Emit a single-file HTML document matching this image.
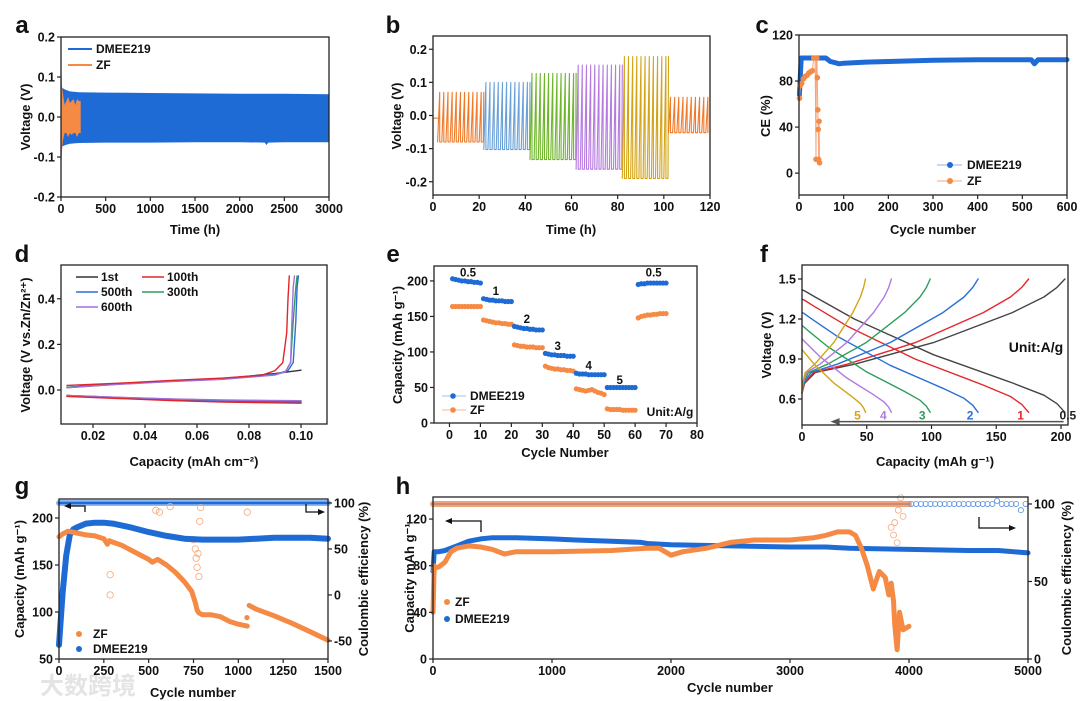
<!DOCTYPE html>
<html><head><meta charset="utf-8"><style>
body{margin:0;background:#fff;}
svg{display:block;font-family:"Liberation Sans","Noto Sans CJK SC",sans-serif;font-weight:bold;}
</style></head><body>
<svg id="fig" width="1080" height="701" viewBox="0 0 1080 701" xmlns="http://www.w3.org/2000/svg">
<rect width="1080" height="701" fill="#fff"/>
<text x="40" y="694" font-size="24" fill="#e4e4e4">大数跨境</text>
</svg>
<script>
// ---------- DATA ----------
const aTime=[0,20,50,100,200,500,1000,1500,2000,2280,2300,2320,2500,3000];
const aUpper=[0.075,0.072,0.068,0.064,0.062,0.061,0.060,0.059,0.058,0.058,0.058,0.058,0.058,0.057];
const aLower=[-0.075,-0.073,-0.07,-0.067,-0.065,-0.064,-0.064,-0.063,-0.063,-0.064,-0.07,-0.064,-0.063,-0.063];
const aZfTime=[0,5,10,20,40,60,80,100,120,140,160,180,200,220];
const aZfUpper=[0.15,0.12,0.08,0.06,0.03,0.04,0.05,0.035,0.04,0.045,0.03,0.045,0.04,0.04];
const aZfLower=[-0.14,-0.12,-0.09,-0.06,-0.04,-0.04,-0.05,-0.04,-0.045,-0.04,-0.04,-0.05,-0.04,-0.04];

const bStart=[2,22,42,62,82,102];
const bEnd=[22,42,62,82,102,120];
const bHigh=[0.07,0.1,0.127,0.152,0.178,0.055];
const bLow=[-0.08,-0.103,-0.133,-0.162,-0.19,-0.052];
const bPeriod=[1.8,1.8,1.8,1.8,1.8,1.8];

const cDmCyc=[1,5,10,20,40,60,70,80,90,100,150,200,300,400,500,520,527,535,600];
const cDmCE=[68,100,100,100,100,100,97,96,95,95.5,96.5,97,98,98.5,98.5,98.5,95,98.5,98.5];
const cZfCyc=[1,3,6,10,14,18,22,26,30,33,36,38,39,40,41,42,43,44,45,46];
const cZfCE=[65,76,78,82,84,85,87,88,89,100,100,12,100,100,83,55,38,12,45,9];

const dLabels=['1st','100th','500th','300th','600th'];
const dUpCap=[
 [0.01,0.03,0.05,0.07,0.09,0.1],
 [0.01,0.03,0.05,0.07,0.085,0.09,0.093,0.0945,0.095,0.0955],
 [0.01,0.03,0.05,0.07,0.09,0.095,0.097,0.098,0.0985,0.099],
 [0.01,0.03,0.05,0.07,0.09,0.094,0.096,0.097,0.098,0.0985],
 [0.01,0.03,0.05,0.07,0.09,0.094,0.096,0.0965,0.097,0.0975]];
const dUpV=[
 [0.012,0.028,0.04,0.05,0.072,0.087],
 [0.02,0.03,0.042,0.052,0.065,0.085,0.12,0.25,0.4,0.5],
 [0.01,0.026,0.038,0.048,0.068,0.085,0.12,0.3,0.45,0.5],
 [0.012,0.027,0.038,0.049,0.068,0.08,0.12,0.3,0.45,0.5],
 [0.01,0.025,0.037,0.047,0.066,0.08,0.12,0.3,0.45,0.5]];
const dLowCap=[0.01,0.03,0.05,0.07,0.1];
const dLowV=[
 [-0.024,-0.033,-0.04,-0.045,-0.048],
 [-0.028,-0.037,-0.046,-0.053,-0.058],
 [-0.025,-0.034,-0.042,-0.048,-0.052],
 [-0.026,-0.035,-0.043,-0.05,-0.055],
 [-0.024,-0.032,-0.039,-0.044,-0.047]];

const eBlue=[203,202,201,200,200,199,199,198,198,197, 175,174,173,173,172,172,172,171,171,171, 136,135,134,133,133,132,132,131,131,131, 98,97,96,96,95,95,95,94,94,94, 70,69,69,69,68,68,68,68,68,68, 50,50,50,50,50,50,50,50,50,50, 195,196,196,197,197,197,197,197,197,197];
const eOrange=[164,164,164,164,164,164,164,164,164,164, 145,144,143,142,141,141,140,140,139,139, 110,109,108,108,107,107,107,106,106,106, 80,78,77,76,76,75,75,74,74,73, 48,47,46,45,46,47,45,43,42,40, 20,19,19,19,19,18,18,18,18,18, 148,150,151,152,152,153,153,154,154,154];
const eRateLabels=['0.5','1','2','3','4','5','0.5'];
const eRateCyc=[6,15,25,35,45,55,66];
const eRateCap=[206,180,141,103,75,55,206];

const fRates=['0.5','1','2','3','4','5'];
const fCap=[203,175,136,99,69,49];
const fV0=[1.42,1.35,1.25,1.15,1.05,0.97];
const fFrac=[0,0.01,0.05,0.2,0.5,0.8,0.92,0.97,1];
const fDisShape=[0,0.01,0.06,0.24,0.53,0.76,0.86,0.93,1];
const fChgShape=[0.05,0.13,0.22,0.29,0.47,0.72,0.85,0.93,1];

const gZfCyc=[0,20,50,100,150,200,250,270,280,290,350,400,500,520,550,600,650,700,740,760,770,780,800,850,900,950,1000,1050];
const gZfCap=[180,183,186,184,182,181,178,172,176,175,171,166,156,153,156,150,142,132,122,110,102,99,97,97,95,90,87,85];
const gZfCyc2=[1060,1100,1200,1300,1400,1500];
const gZfCap2=[107,103,96,88,79,70];
const gDmCyc=[0,20,40,60,80,100,150,200,250,300,400,500,600,700,800,900,1000,1100,1200,1300,1400,1500];
const gDmCap=[65,120,160,182,188,190,194,195,195,194,190,185,181,178,177,177,177,178,179,179,179,178];
const gZfCeCyc=[285,285,540,560,620,750,760,765,770,775,780,785,790,1050];
const gZfCe=[22,0,92,90,96,60,50,40,30,45,20,80,95,90];

const hZfCyc=[0,10,20,50,100,150,200,300,400,500,600,700,1000,1500,1800,1900,2000,2100,2300,2500,2700,3000,3200,3300,3400,3500,3550,3600,3650,3700,3750,3800,3830,3850,3870,3880,3900,3920,3950,4000];
const hZfCap=[40,80,78,79,83,92,95,97,96,94,90,92,92,93,95,95,89,92,95,100,102,102,104,106,109,109,106,95,80,60,75,70,55,65,50,30,8,40,25,28];
const hDmCyc=[0,10,50,100,200,300,400,500,700,1000,1200,1500,1750,1800,2000,2500,3000,3300,3500,4000,4500,4700,4750,5000];
const hDmCap=[75,92,92,93,97,101,103,104,104,103,102,101,100,99,98,97,96,96,95,94,93,93,93,91];
const hBlueCeCyc=[4020,4060,4100,4140,4180,4220,4260,4300,4340,4380,4420,4460,4500,4540,4580,4620,4660,4700,4740,4780,4820,4860,4900,4940,4980];
const hBlueCe=[100,100,100,100,100,100,100,100,100,100,100,100,100,100,100,100,100,100,102,100,100,100,100,96,100];
const hZfCeCyc=[3850,3870,3880,3900,3910,3930,3950];
const hZfCe=[85,80,88,75,96,104,92];

// ---------- HELPERS ----------
const NS='http://www.w3.org/2000/svg';
const svg=document.getElementById('fig');
const BLUE='#1f6bd6', ORANGE='#f58a45';
function mk(tag,attrs,name,parent){
  const e=document.createElementNS(NS,tag);
  for(const k in attrs) e.setAttribute(k,attrs[k]);
  
  
  (parent||svg).appendChild(e);
  return e;
}
function txt(x,y,s,size,anchor,name,fill,rot){
  const t=mk('text',{x:x,y:y,'font-size':size,'text-anchor':anchor||'middle',fill:fill||'#111'},name);
  if(rot) t.setAttribute('transform','rotate(-90 '+x+' '+y+')');
  t.textContent=s;
  return t;
}
function sx(p,v){return p.x0+(v-p.xmin)/(p.xmax-p.xmin)*(p.x1-p.x0);}
function sy(p,v){return p.y1-(v-p.ymin)/(p.ymax-p.ymin)*(p.y1-p.y0);}
function sy2(p,v){return p.y1-(v-p.y2min)/(p.y2max-p.y2min)*(p.y1-p.y0);}
function axes(p,name,xt,xl,yt,yl,y2t,y2l){
  const g=mk('g',{},name+'-axes');
  mk('rect',{x:p.x0,y:p.y0,width:p.x1-p.x0,height:p.y1-p.y0,fill:'none',stroke:'#222','stroke-width':1.3},name+'-frame',g);
  xt.forEach((v,i)=>{const x=sx(p,v);
    mk('line',{x1:x,x2:x,y1:p.y1,y2:p.y1+4,stroke:'#222','stroke-width':1.2},name+'-x-tick',g);
    txt(x,p.y1+16,xl[i],12.5,'middle',name+'-x-tick-label');});
  yt.forEach((v,i)=>{const y=sy(p,v);
    mk('line',{x1:p.x0-4,x2:p.x0,y1:y,y2:y,stroke:'#222','stroke-width':1.2},name+'-y-tick',g);
    txt(p.x0-6,y+4.5,yl[i],12.5,'end',name+'-y-tick-label');});
  if(y2t) y2t.forEach((v,i)=>{const y=sy2(p,v);
    mk('line',{x1:p.x1,x2:p.x1+4,y1:y,y2:y,stroke:'#222','stroke-width':1.2},name+'-y2-tick',g);
    txt(p.x1+6,y+4.5,y2l[i],12.5,'start',name+'-y2-tick-label');});
}
function poly(p,xs,ys,color,w,name,useY2){
  const pts=xs.map((x,i)=>sx(p,x).toFixed(1)+','+(useY2?sy2(p,ys[i]):sy(p,ys[i])).toFixed(1)).join(' ');
  return mk('polyline',{points:pts,fill:'none',stroke:color,'stroke-width':w,'stroke-linejoin':'round','stroke-linecap':'round'},name);
}
function band(p,xs,up,lo,color,name){
  let pts=xs.map((x,i)=>sx(p,x).toFixed(1)+','+sy(p,up[i]).toFixed(1));
  for(let i=xs.length-1;i>=0;i--) pts.push(sx(p,xs[i]).toFixed(1)+','+sy(p,lo[i]).toFixed(1));
  return mk('polygon',{points:pts.join(' '),fill:color},name);
}
function dot(x,y,r,color,name,open){
  return mk('circle',{cx:x,cy:y,r:r,fill:open?'none':color,stroke:color,'stroke-width':open?0.8:0},name);
}
function letter(x,y,s){txt(x,y,s,24,'middle','panel-label-'+s);}

// ---------- PANEL A ----------
const pa={x0:61,x1:329,y0:37,y1:197,xmin:0,xmax:3000,ymin:-0.2,ymax:0.2};
letter(22,33,'a');
band(pa,aTime,aUpper,aLower,BLUE,'a-dmee219-band');
band(pa,aZfTime,aZfUpper,aZfLower,ORANGE,'a-zf-band');
axes(pa,'a',[0,500,1000,1500,2000,2500,3000],['0','500','1000','1500','2000','2500','3000'],[-0.2,-0.1,0,0.1,0.2],['-0.2','-0.1','0.0','0.1','0.2']);
mk('line',{x1:68,x2:92,y1:49,y2:49,stroke:BLUE,'stroke-width':2},'a-legend-dmee219-line');
txt(96,53,'DMEE219',12,'start','a-legend-dmee219');
mk('line',{x1:68,x2:92,y1:65,y2:65,stroke:ORANGE,'stroke-width':2},'a-legend-zf-line');
txt(96,69,'ZF',12,'start','a-legend-zf');
txt(195,234,'Time (h)',13,'middle','a-x-axis-title');
txt(30,117,'Voltage (V)',13,'middle','a-y-axis-title','#111',true);

// ---------- PANEL B ----------
const pb={x0:433,x1:710,y0:36,y1:195,xmin:0,xmax:120,ymin:-0.24,ymax:0.24};
letter(393,33,'b');
const bColors=['#f07a2a','#6aa0d8','#6fb52c','#b57ae0','#d4a418','#f07a2a'];
poly(pb,[0,2],[-0.008,-0.008],bColors[0],1.2,'b-rest-line');
bStart.forEach((s,k)=>{
  const xs=[],ys=[];let t=s;
  while(t<bEnd[k]-0.01){xs.push(t);ys.push(bLow[k]);xs.push(Math.min(t+bPeriod[k]/2,bEnd[k]));ys.push(bHigh[k]);t+=bPeriod[k]/2;if(t>=bEnd[k])break;
    xs.push(t);ys.push(bLow[k]);t+=bPeriod[k]/2;}
  poly(pb,xs,ys,bColors[k],1.1,'b-segment-'+k);
});
axes(pb,'b',[0,20,40,60,80,100,120],['0','20','40','60','80','100','120'],[-0.2,-0.1,0,0.1,0.2],['-0.2','-0.1','0.0','0.1','0.2']);
txt(571,234,'Time (h)',13,'middle','b-x-axis-title');
txt(401,116,'Voltage (V)',13,'middle','b-y-axis-title','#111',true);

// ---------- PANEL C ----------
const pc={x0:799,x1:1067,y0:35,y1:195,xmin:0,xmax:600,ymin:-19,ymax:120};
letter(762,33,'c');
poly(pc,cDmCyc,cDmCE,BLUE,5,'c-dmee219-series');
poly(pc,cZfCyc,cZfCE,'#f7a47a',1,'c-zf-line');
cZfCyc.forEach((c,i)=>dot(sx(pc,c),sy(pc,cZfCE[i]),2.8,ORANGE,'c-zf-point'));
axes(pc,'c',[0,100,200,300,400,500,600],['0','100','200','300','400','500','600'],[0,40,80,120],['0','40','80','120']);
mk('line',{x1:937,x2:962,y1:165,y2:165,stroke:'#8ab4ee','stroke-width':1},'c-legend-dmee219-line');
dot(950,165,3,BLUE,'c-legend-dmee219-marker');
txt(967,169,'DMEE219',12,'start','c-legend-dmee219');
mk('line',{x1:937,x2:962,y1:181,y2:181,stroke:'#f7a47a','stroke-width':1},'c-legend-zf-line');
dot(950,181,3,ORANGE,'c-legend-zf-marker');
txt(967,185,'ZF',12,'start','c-legend-zf');
txt(933,234,'Cycle number',13,'middle','c-x-axis-title');
txt(770,116,'CE (%)',13,'middle','c-y-axis-title','#111',true);

// ---------- PANEL D ----------
const pd={x0:61,x1:327,y0:265,y1:424,xmin:0.0077,xmax:0.11,ymin:-0.149,ymax:0.548};
letter(22,262,'d');
const dColors=['#333333','#e0262b','#2a6fd6','#2e9e5b','#a070d8'];
[0,3,2,4,1].forEach(k=>{poly(pd,dLowCap,dLowV[k],dColors[k],1.4,'d-lower-'+dLabels[k]);});
[0,3,2,4,1].forEach(k=>{poly(pd,dUpCap[k],dUpV[k],dColors[k],1.4,'d-upper-'+dLabels[k]);});
axes(pd,'d',[0.02,0.04,0.06,0.08,0.10],['0.02','0.04','0.06','0.08','0.10'],[0,0.2,0.4],['0.0','0.2','0.4']);
const dLegPos=[[76,277],[142,277],[76,292],[142,292],[76,307]];
dLegPos.forEach((pp,k)=>{
  mk('line',{x1:pp[0],x2:pp[0]+22,y1:pp[1],y2:pp[1],stroke:dColors[k],'stroke-width':1.5},'d-legend-line-'+dLabels[k]);
  txt(pp[0]+25,pp[1]+4,dLabels[k],12,'start','d-legend-'+dLabels[k]);
});
txt(194,466,'Capacity (mAh cm⁻²)',13,'middle','d-x-axis-title');
txt(30,345,'Voltage (V vs.Zn/Zn²⁺)',13,'middle','d-y-axis-title','#111',true);

// ---------- PANEL E ----------
const pe={x0:434,x1:697,y0:266,y1:423,xmin:-5,xmax:80,ymin:0,ymax:221};
letter(393,262,'e');
eOrange.forEach((v,i)=>dot(sx(pe,i+1),sy(pe,v),2.6,ORANGE,'e-zf-point'));
eBlue.forEach((v,i)=>dot(sx(pe,i+1),sy(pe,v),2.6,BLUE,'e-dmee219-point'));
eRateLabels.forEach((s,i)=>txt(sx(pe,eRateCyc[i]),sy(pe,eRateCap[i]),s,11.5,'middle','e-rate-label'));
axes(pe,'e',[0,10,20,30,40,50,60,70,80],['0','10','20','30','40','50','60','70','80'],[0,50,100,150,200],['0','50','100','150','200']);
mk('line',{x1:442,x2:466,y1:396,y2:396,stroke:'#9fc1ef','stroke-width':1},'e-legend-dmee219-line');
dot(453,396,2.8,BLUE,'e-legend-dmee219-marker');
txt(470,400,'DMEE219',12,'start','e-legend-dmee219');
mk('line',{x1:442,x2:466,y1:410,y2:410,stroke:'#f7b894','stroke-width':1},'e-legend-zf-line');
dot(453,410,2.8,ORANGE,'e-legend-zf-marker');
txt(470,414,'ZF',12,'start','e-legend-zf');
txt(670,416,'Unit:A/g',12,'middle','e-unit-label');
txt(565,457,'Cycle Number',13,'middle','e-x-axis-title');
txt(402,345,'Capacity (mAh g⁻¹)',13,'middle','e-y-axis-title','#111',true);

// ---------- PANEL F ----------
const pf={x0:802,x1:1068,y0:265,y1:425,xmin:0,xmax:205.4,ymin:0.405,ymax:1.605};
letter(764,262,'f');
const fColors=['#444444','#e6262b','#2a6fd6','#2e9e5b','#b07ae0','#d4a418'];
fRates.forEach((r,k)=>{
  const xs=fFrac.map(f=>f*fCap[k]);
  poly(pf,xs,fDisShape.map(s=>fV0[k]-s*(fV0[k]-0.5)),fColors[k],1.4,'f-discharge-'+r);
  poly(pf,xs,fChgShape.map(s=>0.6+s*0.9),fColors[k],1.4,'f-charge-'+r);
  txt(sx(pf,fCap[k])-(k==0?-3:8),sy(pf,0.445),r,12,'middle','f-rate-label-'+r,k==0?'#222':fColors[k]);
});
mk('line',{x1:sx(pf,202),x2:sx(pf,28),y1:sy(pf,0.43),y2:sy(pf,0.43),stroke:'#555','stroke-width':1.5},'f-arrow-line');
mk('polygon',{points:(sx(pf,22))+','+sy(pf,0.43)+' '+(sx(pf,29))+','+(sy(pf,0.43)-3.5)+' '+(sx(pf,29))+','+(sy(pf,0.43)+3.5),fill:'#555'},'f-arrow-head');
axes(pf,'f',[0,50,100,150,200],['0','50','100','150','200'],[0.6,0.9,1.2,1.5],['0.6','0.9','1.2','1.5']);
txt(1036,352,'Unit:A/g',14,'middle','f-unit-label');
txt(935,466,'Capacity (mAh g⁻¹)',13,'middle','f-x-axis-title');
txt(771,345,'Voltage (V)',13,'middle','f-y-axis-title','#111',true);

// ---------- PANEL G ----------
const pg={x0:59,x1:328,y0:499,y1:659,xmin:0,xmax:1500,ymin:50,ymax:220.2,y2min:-69.6,y2max:104.3};
letter(22,494,'g');
poly(pg,[0,1500],[100,100],'#8fb8f0',6,'g-dmee219-ce',true);
poly(pg,[0,1500],[100,100],BLUE,2.5,'g-dmee219-ce-core',true);
gZfCeCyc.forEach((c,i)=>dot(sx(pg,c),sy2(pg,gZfCe[i]),3.2,'#f5a77a','g-zf-ce-point',true));
poly(pg,gDmCyc,gDmCap,BLUE,6,'g-dmee219-capacity');
poly(pg,gZfCyc,gZfCap,ORANGE,5,'g-zf-capacity');
poly(pg,gZfCyc2,gZfCap2,ORANGE,5,'g-zf-capacity-after');
dot(sx(pg,1048),sy(pg,94),2.6,ORANGE,'g-zf-capacity-point');
axes(pg,'g',[0,250,500,750,1000,1250,1500],['0','250','500','750','1000','1250','1500'],[50,100,150,200],['50','100','150','200'],[-50,0,50,100],['-50','0','50','100']);
mk('polyline',{points:'85,512 85,506 70,506',fill:'none',stroke:'#111','stroke-width':1.3},'g-left-arrow');
mk('polygon',{points:'64,506 71,503 71,509',fill:'#111'},'g-left-arrow-head');
mk('polyline',{points:'306,504 306,512 320,512',fill:'none',stroke:'#111','stroke-width':1.3},'g-right-arrow');
mk('polygon',{points:'325,512 318,509 318,515',fill:'#111'},'g-right-arrow-head');
dot(79,634,3,ORANGE,'g-legend-zf-marker');
txt(93,638,'ZF',12,'start','g-legend-zf');
dot(79,649,3,BLUE,'g-legend-dmee219-marker');
txt(93,653,'DMEE219',12,'start','g-legend-dmee219');
txt(193,697,'Cycle number',13,'middle','g-x-axis-title');
txt(24,579,'Capacity (mAh g⁻¹)',13,'middle','g-y-axis-title','#111',true);
txt(368,579,'Coulombic efficiency (%)',13,'middle','g-y2-axis-title','#111',true);

// ---------- PANEL H ----------
const ph={x0:433,x1:1028,y0:497,y1:659,xmin:0,xmax:5000,ymin:0,ymax:138.9,y2min:0,y2max:104.5};
letter(403,494,'h');
poly(ph,[0,4000],[100,100],'#f0a27a',6,'h-zf-ce',true);
poly(ph,[0,4000],[100,100],'#b08070',1.2,'h-zf-ce-core',true);
hZfCeCyc.forEach((c,i)=>dot(sx(ph,c),sy2(ph,hZfCe[i]),3,'#f5a77a','h-zf-ce-point',true));
hBlueCeCyc.forEach((c,i)=>dot(sx(ph,c),sy2(ph,hBlueCe[i]),2.6,'#5a90e0','h-dmee219-ce-point',true));
poly(ph,hDmCyc,hDmCap,BLUE,5,'h-dmee219-capacity');
poly(ph,hZfCyc,hZfCap,ORANGE,5,'h-zf-capacity');
axes(ph,'h',[0,1000,2000,3000,4000,5000],['0','1000','2000','3000','4000','5000'],[0,40,80,120],['0','40','80','120'],[0,50,100],['0','50','100']);
mk('polyline',{points:'481,532 481,521 451,521',fill:'none',stroke:'#111','stroke-width':1.3},'h-left-arrow');
mk('polygon',{points:'445,521 452,518 452,524',fill:'#111'},'h-left-arrow-head');
mk('polyline',{points:'979,517 979,528 1010,528',fill:'none',stroke:'#111','stroke-width':1.3},'h-right-arrow');
mk('polygon',{points:'1016,528 1009,525 1009,531',fill:'#111'},'h-right-arrow-head');
dot(447,602,3,ORANGE,'h-legend-zf-marker');
txt(455,606,'ZF',12,'start','h-legend-zf');
dot(447,619,3,BLUE,'h-legend-dmee219-marker');
txt(455,623,'DMEE219',12,'start','h-legend-dmee219');
txt(730,692,'Cycle number',13,'middle','h-x-axis-title');
txt(414,578,'Capacity mAh g⁻¹',13,'middle','h-y-axis-title','#111',true);
txt(1071,578,'Coulombic efficiency (%)',13,'middle','h-y2-axis-title','#111',true);
</script>
</body></html>
